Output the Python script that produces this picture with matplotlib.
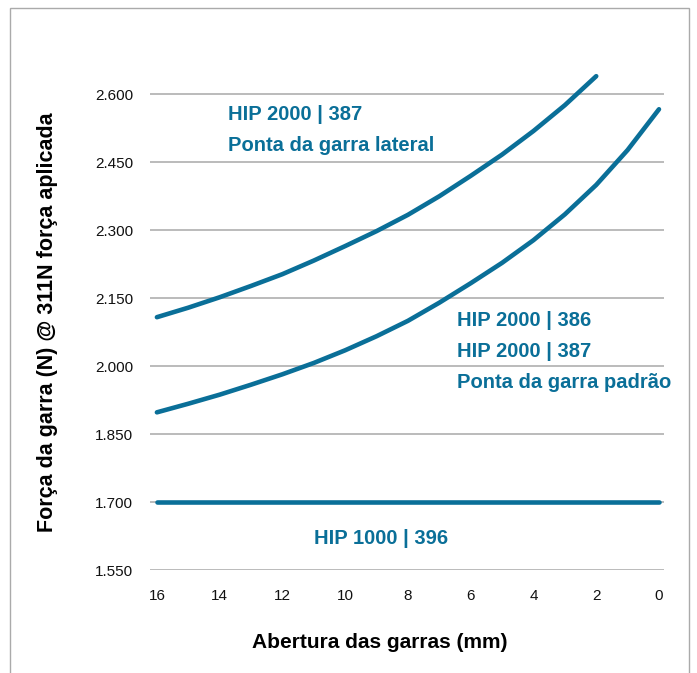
import matplotlib
matplotlib.use('Agg')
from matplotlib import pyplot as plt
from matplotlib.patches import Rectangle

plt.rcParams['font.family'] = ['Liberation Sans', 'DejaVu Sans']

# abertura das garras (mm)
abertura = [16, 15, 14, 13, 12, 11, 10, 9, 8, 7, 6, 5, 4, 3, 2, 1, 0]
# força da garra (N)
lateral_x = [16, 15, 14, 13, 12, 11, 10, 9, 8, 7, 6, 5, 4, 3, 2]
lateral = [2108, 2129, 2152, 2177, 2203, 2233, 2265, 2298, 2334, 2375, 2420, 2467, 2519, 2576, 2640]
padrao = [1898, 1917, 1937, 1959, 1982, 2007, 2035, 2066, 2100, 2140, 2183, 2228, 2278, 2335, 2400, 2477, 2567]
hip1000 = [1700] * len(abertura)

yticks = [1550, 1700, 1850, 2000, 2150, 2300, 2450, 2600]
xticks = [16, 14, 12, 10, 8, 6, 4, 2, 0]

blue = '#0a6f98'
W, H = 697, 673
fig = plt.figure(figsize=(W / 100, H / 100), dpi=100)
ax = fig.add_axes([150 / W, (H - 570) / H, 514 / W, 521 / H])

fig.add_artist(Rectangle((10 / W, -0.1), 679 / W, 1.1 - 8 / H, transform=fig.transFigure,
                         fill=False, edgecolor='#aaaaaa', linewidth=1.0))

for v in yticks:
    ax.axhline(v, color='#bbbbbb', linewidth=1.4, zorder=1)

lw = dict(color=blue, linewidth=3.3, solid_capstyle='round', solid_joinstyle='round', zorder=3)
ax.plot(lateral_x, lateral, **lw)
ax.plot(abertura, padrao, **lw)
ax.plot(abertura, hip1000, **lw)

ax.set_xlim(16.22, -0.16)
ax.set_ylim(1550, 2700)
ax.set_xticks(xticks)
ax.set_xticklabels([str(x) for x in xticks])
ax.set_yticks(yticks)
ax.set_yticklabels([f'{v / 1000:.3f}' for v in yticks])
ax.tick_params(length=0, labelsize=11, colors='#111111')
ax.tick_params(axis='y', pad=12)
ax.tick_params(axis='x', pad=14)
for s in ax.spines.values():
    s.set_visible(False)

fig.text(380 / W, 1 - 642 / H, 'Abertura das garras (mm)', fontsize=15, fontweight='bold',
         ha='center', va='center')
fig.text(48 / W, 1 - 322 / H, 'Força da garra (N) @ 311N força aplicada', fontsize=15.5,
         fontweight='bold', rotation=90, ha='center', va='center')

kw = dict(color=blue, fontsize=14.5, fontweight='bold', va='baseline', ha='left')
ax.text(13.74, 2543, 'HIP 2000 | 387', **kw)
ax.text(13.74, 2474, 'Ponta da garra lateral', **kw)
ax.text(6.45, 2088, 'HIP 2000 | 386', **kw)
ax.text(6.45, 2020, 'HIP 2000 | 387', **kw)
ax.text(6.45, 1951, 'Ponta da garra padrão', **kw)
ax.text(8.86, 1607, 'HIP 1000 | 396', color=blue, fontsize=14.5, fontweight='bold',
        va='baseline', ha='center')

fig.savefig('out.png', dpi=100)
